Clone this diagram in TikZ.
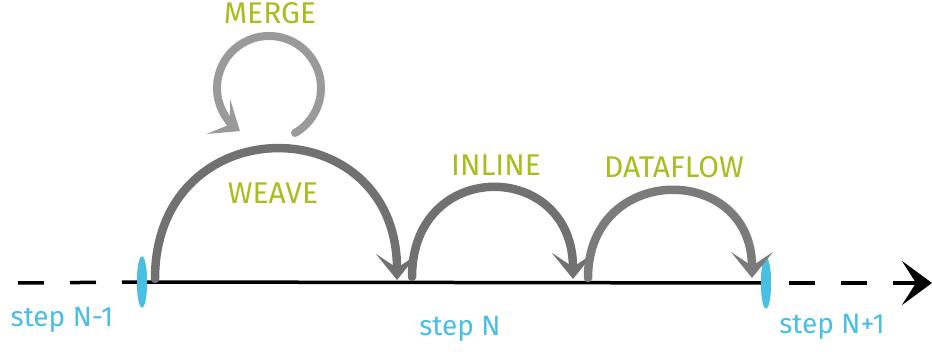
\documentclass[tikz,border=0pt]{standalone}
\usepackage{fontspec}
\setmainfont{Fira Sans}
\usetikzlibrary{arrows.meta,shapes.geometric}
\definecolor{passgreen}{HTML}{A6BF1E}
\definecolor{stepblue}{HTML}{48BFE3}
\definecolor{brushdark}{HTML}{717171}
\definecolor{brushmid}{HTML}{7B7B7B}
\definecolor{brushlight}{HTML}{9A9A9A}

\begin{document}
\begin{tikzpicture}[x=1pt,y=1pt,line cap=round,line join=round,
  brush/.style={line width=8.5pt,-{Stealth[length=26pt,width=42pt,inset=14pt]}},
  passlabel/.style={text=passgreen,inner sep=1pt,font=\fontsize{30}{34}\selectfont},
  steplabel/.style={text=stepblue,inner sep=1pt,font=\fontsize{28}{32}\selectfont},
  stepmark/.style={ellipse,fill=stepblue,inner sep=0pt,minimum width=10pt,minimum height=51pt}]
\useasboundingbox (0,0) rectangle (932,351);
\coordinate (lstart) at (18,68);
\coordinate (rend) at (932,68);
\coordinate (rdash) at (789,68);
\coordinate (weaveA) at (155,72);
\coordinate (weaveB) at (397,71);
\coordinate (inlineA) at (412,74);
\coordinate (inlineB) at (573,72);
\coordinate (flowA) at (588,73);
\coordinate (flowB) at (752,73);
\coordinate (mergeA) at (295,218);
\node[stepmark] (prev) at (142,69) {};
\node[stepmark] (next) at (766,68) {};
\draw[line width=3.5pt,dash pattern=on 26pt off 26pt,line cap=butt] (lstart) -- (prev.center);
\draw[line width=3.5pt] (prev.center) -- (next.center);
\draw[line width=3.5pt,dash pattern=on 26pt off 26pt,line cap=butt,-{Stealth[length=30pt,width=44pt,inset=14pt]}] (rdash) -- (rend);
\node[stepmark] at (prev) {};
\node[stepmark] at (next) {};
\draw[brush,brushdark] (weaveA) to[out=90,in=90,looseness=1.83] (weaveB);
\draw[brush,brushdark] (inlineA) to[out=90,in=90,looseness=1.9] (inlineB);
\draw[brush,brushmid] (flowA) to[out=90,in=90,looseness=1.81] (flowB);
\draw[brush,brushlight,line width=8pt] (mergeA) arc[start angle=-60,end angle=236,radius=52];
\node[passlabel] (merge) at (270,338) {MERGE};
\node[passlabel] (weave) at (273,158) {WEAVE};
\node[passlabel] (inline) at (496,186) {INLINE};
\node[passlabel] (dataflow) at (674,184) {DATAFLOW};
\node[steplabel] (stepprev) at (62,31) {step N-1};
\node[steplabel] (stepcur) at (460,22) {step N};
\node[steplabel] (stepnext) at (832,24) {step N+1};
\end{tikzpicture}
\end{document}
